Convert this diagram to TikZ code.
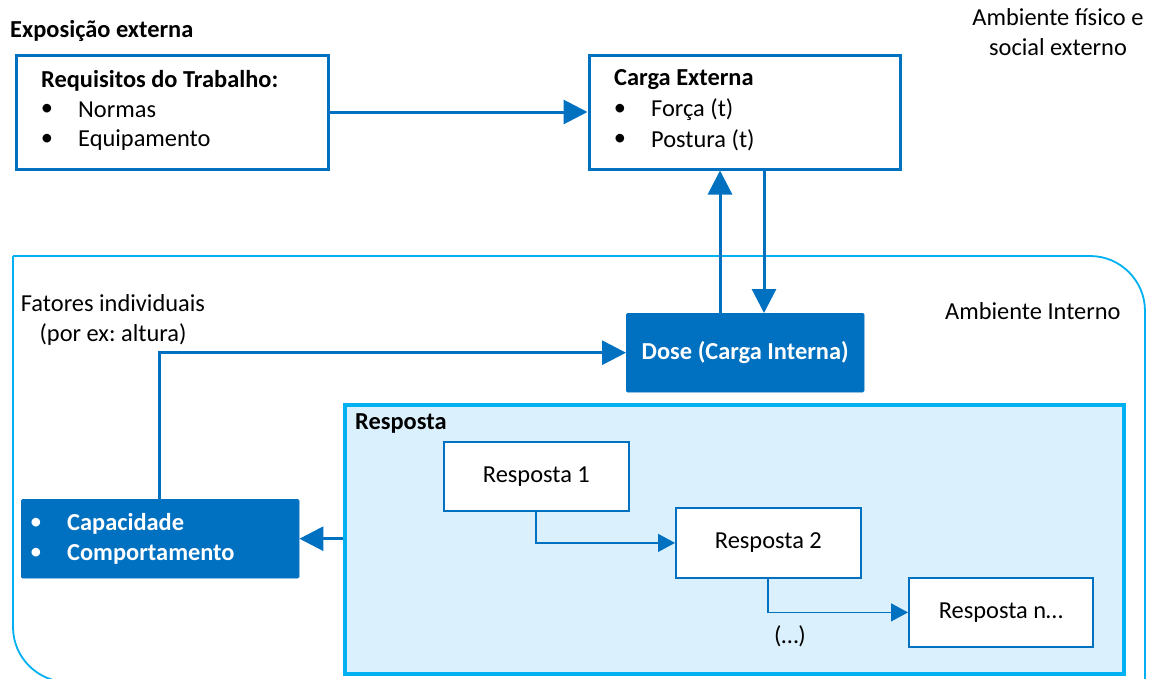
\documentclass[tikz,border=0pt]{standalone}
\usepackage{fontspec}
\setmainfont{Carlito}
\frenchspacing
\usetikzlibrary{arrows.meta}
\definecolor{dblue}{RGB}{0,112,192}
\definecolor{lblue}{RGB}{0,176,240}
\definecolor{lfill}{RGB}{218,240,252}
\tikzset{
  x=1pt, y={(0pt,-1pt)},
  every node/.style={font=\fontsize{24.4}{29.5}\selectfont, inner sep=0pt},
  boxA/.style={draw=dblue, line width=3pt, fill=white, anchor=north west},
  boxD/.style={fill=dblue, draw=dblue, rounded corners=1.5pt, anchor=north west},
  boxR/.style={draw=dblue, line width=1.8pt, fill=white, anchor=north west},
  big/.style={draw=dblue, line width=3pt, -{Triangle[length=24pt,width=24pt]}},
  thin/.style={draw=dblue, line width=1.3pt, -{Triangle[length=17pt,width=18pt]}},
  amb/.style={draw=lblue, line width=1.8pt},
  lbl/.style={anchor=west},
  bfl/.style={anchor=west, font=\fontsize{24.4}{29.5}\selectfont\bfseries},
  wlbl/.style={anchor=west, text=white, font=\fontsize{24.4}{29.5}\selectfont\bfseries},
}
\begin{document}
\begin{tikzpicture}
\useasboundingbox (0,0) rectangle (1157,678);
% ambiente interno
\draw[amb, rounded corners=55pt] (13,256) -- (1145,256) -- (1145,720);
\draw[amb, rounded corners=55pt] (13,256) -- (13,682) -- (1145,682);
% boxes
\node[boxA, minimum width=312pt, minimum height=114pt] (req) at (14.5,53.5) {};
\node[boxA, minimum width=311pt, minimum height=114pt] (carga) at (587.5,53.5) {};
\node[boxD, minimum width=238pt, minimum height=79pt] (dose) at (626,313) {};
\node[text=white, font=\fontsize{24.4}{29.5}\selectfont\bfseries] (dosetxt) at (dose.center) {Dose (Carga Interna)};
\node[boxD, minimum width=278pt, minimum height=79pt] (cap) at (21,499) {};
\node[draw=lblue, fill=lfill, line width=4pt, anchor=north west, minimum width=779pt, minimum height=269pt] (resp) at (343,403) {};
\node[boxR, minimum width=185pt, minimum height=69pt] (r1) at (443,441) {Resposta 1};
\node[boxR, minimum width=185pt, minimum height=70pt] (r2) at (675,507) {Resposta 2};
\node[boxR, minimum width=184pt, minimum height=69pt] (rn) at (908,577) {Resposta n…};
% texts
\node[bfl] (expo) at (10,31) {Exposição externa};
\node[bfl] (reqt) at (41,81) {Requisitos do Trabalho:};
\node (b1) at (47,110) {•};
\node[lbl] (t1) at (78,110) {Normas};
\node (b2) at (47,140) {•};
\node[lbl] (t2) at (78,140) {Equipamento};
\node[bfl] (cargat) at (614,80) {Carga Externa};
\node (b3) at (620,110) {•};
\node[lbl] (t3) at (651,110) {Força (t)};
\node (b4) at (620,140) {•};
\node[lbl] (t4) at (651,140) {Postura (t)};
\node[align=center] (ambext) at (1058,32) {Ambiente físico e\\social externo};
\node[lbl] (ambint) at (945,311) {Ambiente Interno};
\node[align=center] (fat) at (113,320) {Fatores individuais\\(por ex: altura)};
\node[bfl] (respt) at (355,423) {Resposta};
\node (dots) at (790,636) {(…)};
\node[text=white] (b5) at (36,524) {•};
\node[wlbl] (t5) at (67,524) {Capacidade};
\node[text=white] (b6) at (36,554) {•};
\node[wlbl] (t6) at (67,554) {Comportamento};
% connectors
\coordinate (xu) at (720,0);
\coordinate (xd) at (764,0);
\coordinate (xc) at (159,0);
\coordinate (x1) at (536,0);
\coordinate (x2) at (768,0);
\draw[big] (req) -- (carga);
\draw[big] (xu |- dose.north) -- (xu |- carga.south);
\draw[big] (xd |- carga.south) -- (xd |- dose.north);
\draw[big] (xc |- cap.north) |- (dose.west);
\draw[big] (cap.east -| resp.west) -- (cap.east);
\draw[thin] (x1 |- r1.south) |- (r2.west);
\draw[thin] (x2 |- r2.south) |- (rn.west);
\end{tikzpicture}
\end{document}
